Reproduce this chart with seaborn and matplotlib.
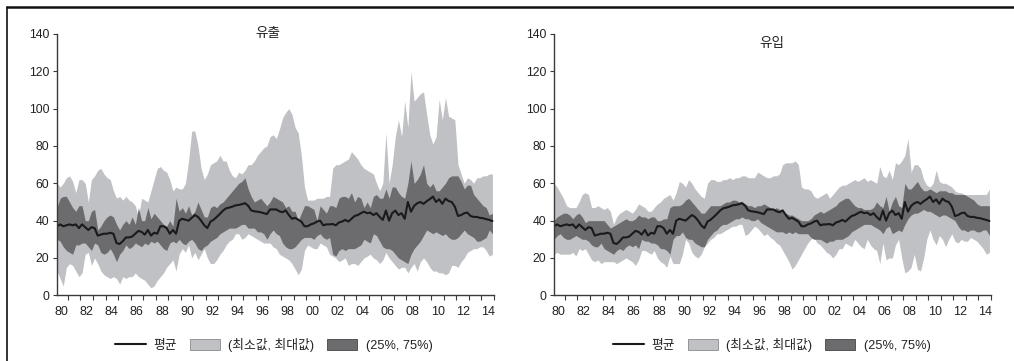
import numpy as np
import pandas as pd
import matplotlib
matplotlib.use("Agg")
import matplotlib.pyplot as plt
from matplotlib.lines import Line2D
from matplotlib.patches import Patch
import seaborn as sns

sns.set_theme(style="white")
plt.rcParams["font.family"] = ["Liberation Sans", "Noto Sans CJK KR"]

# Quarterly observations, 1980Q1 - 2014Q4
year_labels = ["80", "82", "84", "86", "88", "90", "92", "94", "96", "98",
               "00", "02", "04", "06", "08", "10", "12", "14"]
panel_titles = ["유출", "유입"]
legend_labels = ["평균", "(최소값, 최대값)", "(25%, 75%)"]

mean_q = [
    37, 38, 37, 37.5, 38, 37.5, 38, 36, 38, 36.5, 35, 36.5, 36, 32, 32.5, 33, 33, 33.5, 33, 28,
    27.5, 29, 31, 31, 31.5, 33, 34.5, 34, 32.5, 35, 32, 33.5, 33, 37, 37, 36, 33, 35, 33, 40,
    41, 40.5, 40, 41.5, 43, 42, 40, 37.5, 36, 39.5, 40.5, 42, 43.6, 45.4, 46.6, 47, 47.5, 48.2, 48.4, 48.8,
    49.4, 48, 45.5, 45, 44.8, 44.5, 44, 43.5, 46, 46, 46, 45, 44.5, 45.5, 43, 41, 41.5, 40.5, 39.5, 37,
    37, 38, 38.5, 39.5, 40, 37.5, 38, 38, 38.2, 37.5, 39, 39.5, 40.4, 39.5, 41, 42.5, 43, 44, 44.8, 44,
    44.3, 43, 44, 42, 40.4, 45.4, 40, 44, 45.4, 43, 44, 41, 50, 44.8, 47.9, 49.3, 50, 49, 50.4, 51.5,
    52.9, 50, 51.4, 49, 51.8, 50.5, 50, 47.5, 42.5, 43, 44, 44.3, 42.5, 42, 42, 41.5, 41.3, 40.8, 40.4, 39.8,
]

# Outflows
out_max = [
    60, 58, 60, 63, 64, 61, 55, 62, 62, 60, 50, 62, 64, 67, 68, 65, 63, 62, 56, 52,
    53, 51, 53, 51, 50, 48, 42, 52, 51, 50, 56, 62, 68, 69, 67, 66, 62, 56, 58, 57,
    57, 60, 72, 88, 88, 80, 68, 62, 65, 70, 71, 72, 75, 72, 72, 67, 64, 63, 66, 65,
    67, 70, 70, 72, 75, 77, 79, 80, 85, 86, 84, 89, 95, 98, 100, 97, 90, 87, 75, 58,
    51, 51, 51, 52, 52, 52, 53, 53, 68, 70, 70, 71, 72, 73, 77, 75, 73, 70, 68, 67,
    66, 65, 60, 56, 60, 87, 60, 70, 85, 94, 85, 104, 90, 120, 104, 106, 108, 109, 97, 86,
    81, 85, 105, 94, 106, 96, 95, 94, 70, 65, 60, 63, 62, 60, 63, 63, 64, 64, 65, 65,
]
out_min = [
    13, 9, 5, 15, 17, 16, 13, 10, 12, 22, 23, 16, 20, 17, 13, 11, 10, 9, 10, 9,
    6, 10, 9, 10, 10, 12, 10, 9, 8, 6, 4, 5, 8, 10, 12, 15, 17, 19, 13, 22,
    25, 23, 27, 20, 23, 19, 22, 25, 20, 17, 17, 19, 22, 24, 27, 29, 30, 33, 33, 30,
    31, 33, 32, 31, 30, 29, 28, 28, 28, 26, 25, 22, 21, 20, 19, 17, 14, 11, 14, 24,
    27, 26, 25, 25, 28, 27, 26, 22, 21, 20, 18, 19, 20, 16, 17, 17, 16, 18, 20, 21,
    22, 20, 19, 17, 19, 23, 20, 18, 16, 14, 15, 15, 12, 15, 17, 13, 18, 20, 18, 15,
    13, 13, 12, 12, 11, 12, 16, 16, 15, 18, 20, 23, 24, 25, 25, 26, 26, 24, 21, 22,
]
out_p75 = [
    47, 52, 53, 53, 50, 47, 45, 48, 48, 40, 40, 45, 46, 35, 37, 40, 42, 43, 42, 38,
    35, 38, 40, 38, 42, 38, 47, 40, 40, 47, 41, 44, 42, 40, 38, 37, 40, 37, 52, 45,
    47, 44, 48, 43, 45, 50, 46, 42, 42, 47, 48, 47, 49, 50, 52, 54, 56, 58, 60, 61,
    63, 57, 53, 50, 51, 52, 50, 48, 50, 53, 52, 51, 50, 47, 48, 45, 45, 40, 44, 48,
    48, 47, 46, 40, 48, 46, 44, 48, 48, 47, 52, 53, 53, 52, 55, 50, 53, 52, 47, 50,
    47, 53, 54, 52, 52, 57, 52, 58, 58, 55, 53, 52, 60, 72, 60, 62, 65, 70, 60, 58,
    60, 56, 56, 58, 60, 63, 64, 64, 64, 61, 57, 59, 59, 54, 52, 50, 48, 47, 43, 44,
]
out_p25 = [
    30, 29, 26, 24, 23, 22, 27, 27, 28, 28, 26, 24, 28, 27, 23, 22, 23, 25, 22, 18,
    22, 24, 27, 25, 26, 28, 27, 26, 28, 27, 29, 28, 29, 27, 25, 24, 28, 29, 28, 30,
    28, 27, 29, 30, 28, 25, 24, 26, 27, 29, 30, 31, 33, 34, 35, 36, 36, 36, 37, 38,
    38, 36, 36, 36, 34, 34, 33, 30, 33, 35, 33, 32, 28, 26, 25, 25, 26, 28, 30, 31,
    31, 31, 30, 32, 33, 31, 30, 31, 22, 21, 24, 25, 24, 25, 25, 25, 26, 27, 30, 29,
    28, 33, 32, 29, 26, 25, 25, 24, 22, 20, 19, 18, 17, 22, 25, 27, 29, 32, 35, 34,
    33, 34, 33, 32, 33, 31, 30, 30, 31, 33, 35, 33, 32, 31, 29, 29, 30, 31, 35, 33,
]

# Inflows
in_max = [
    60, 58, 55, 52, 48, 47, 47, 47, 50, 54, 55, 54, 47, 47, 48, 47, 46, 47, 45, 38,
    42, 44, 45, 46, 45, 44, 46, 49, 48, 47, 45, 45, 47, 49, 50, 52, 53, 54, 51, 55,
    61, 60, 58, 62, 60, 57, 55, 53, 52, 60, 62, 62, 61, 61, 62, 62, 63, 62, 63, 63,
    64, 64, 63, 63, 63, 66, 65, 64, 63, 63, 64, 64, 65, 70, 71, 71, 71, 72, 70, 58,
    57, 57, 56, 53, 52, 53, 54, 55, 52, 54, 56, 58, 59, 59, 60, 61, 62, 61, 62, 63,
    61, 62, 61, 60, 69, 64, 63, 67, 62, 71, 70, 72, 75, 84, 66, 70, 70, 68, 62, 59,
    58, 60, 67, 61, 60, 60, 59, 58, 56, 55, 55, 54, 54, 54, 54, 54, 54, 54, 54, 57,
]
in_min = [
    22, 23, 22, 22, 22, 22, 23, 21, 25, 24, 25, 22, 19, 18, 19, 17, 18, 18, 18, 18,
    17, 18, 19, 20, 19, 18, 16, 19, 24, 24, 23, 22, 24, 20, 18, 17, 15, 21, 17, 17,
    17, 22, 30, 28, 23, 21, 20, 22, 26, 28, 30, 31, 33, 33, 34, 35, 36, 37, 37, 38,
    38, 32, 33, 35, 37, 36, 34, 32, 33, 31, 30, 28, 27, 24, 21, 18, 14, 16, 19, 22,
    25, 28, 30, 31, 28, 27, 25, 23, 22, 20, 22, 25, 25, 28, 27, 26, 30, 28, 26, 25,
    30, 27, 25, 24, 17, 28, 19, 20, 20, 27, 30, 20, 12, 13, 15, 22, 14, 13, 20, 30,
    35, 30, 27, 32, 30, 26, 30, 33, 29, 28, 30, 29, 29, 31, 30, 29, 27, 25, 22, 23,
]
in_p75 = [
    40, 42, 43, 44, 44, 43, 41, 43, 44, 42, 39, 40, 40, 40, 40, 40, 40, 38, 36, 37,
    38, 39, 40, 41, 40, 40, 41, 43, 42, 42, 41, 42, 42, 40, 40, 41, 41, 47, 48, 48,
    48, 49, 51, 52, 50, 48, 46, 44, 44, 46, 48, 48, 48, 48, 49, 50, 50, 51, 51, 50,
    50, 49, 48, 48, 47, 48, 48, 49, 48, 47, 46, 47, 46, 45, 44, 43, 43, 42, 41, 40,
    40, 40, 41, 43, 44, 45, 44, 45, 46, 47, 48, 50, 51, 52, 52, 50, 48, 47, 47, 46,
    46, 46, 47, 50, 48, 47, 53, 45, 50, 53, 48, 47, 60, 57, 57, 59, 61, 58, 56, 56,
    57, 56, 55, 56, 56, 56, 55, 55, 54, 54, 54, 54, 53, 52, 51, 49, 48, 48, 48, 48,
]
in_p25 = [
    30, 32, 33, 31, 30, 30, 31, 32, 31, 30, 30, 29, 27, 26, 26, 28, 25, 24, 23, 22,
    24, 25, 24, 26, 27, 26, 27, 25, 30, 29, 29, 28, 28, 27, 25, 25, 24, 22, 30, 32,
    32, 34, 31, 30, 30, 28, 27, 26, 26, 30, 32, 34, 35, 37, 38, 38, 39, 40, 41, 41,
    42, 41, 41, 40, 40, 41, 39, 38, 37, 36, 35, 34, 34, 34, 33, 34, 33, 34, 33, 33,
    33, 33, 31, 30, 30, 30, 29, 28, 29, 29, 30, 30, 30, 31, 32, 34, 35, 36, 37, 38,
    38, 38, 37, 36, 35, 33, 36, 37, 33, 34, 35, 34, 38, 41, 43, 44, 44, 45, 46, 45,
    45, 44, 43, 42, 43, 43, 42, 41, 40, 37, 35, 35, 34, 35, 35, 34, 34, 35, 35, 32,
]

LIGHT = "#c0c1c4"
DARK = "#6c6c6f"
LINE = "#1a1a1a"
SPINE = "#3a3a3a"
TEXT = "#222222"

quarter = np.arange(len(mean_q))
panels = [
    (panel_titles[0], out_min, out_max, out_p25, out_p75),
    (panel_titles[1], in_min, in_max, in_p25, in_p75),
]

W, H = 1014, 361
fig = plt.figure(figsize=(W / 100, H / 100), dpi=100)

ax_left_px = [57, 554]
title_pos = [(268, 33), (772, 43)]
legend_cx = [274, 772]

for k, (title, lo, hi, q25, q75) in enumerate(panels):
    ax = fig.add_axes([ax_left_px[k] / W, 1 - 295.3 / H, 437 / W, 261.3 / H])
    df = pd.DataFrame({"quarter": quarter, "mean": mean_q, "lo": lo, "hi": hi,
                       "q25": q25, "q75": q75})
    ax.fill_between(df["quarter"], df["lo"], df["hi"], color=LIGHT, lw=0)
    ax.fill_between(df["quarter"], df["q25"], df["q75"], color=DARK, lw=0)
    sns.lineplot(data=df, x="quarter", y="mean", ax=ax, color=LINE, lw=1.5)

    ax.set_xlim(0, 139.5)
    ax.set_ylim(0, 140)
    ax.set_yticks(range(0, 141, 20))
    ax.set_xticks(1.5 + 8 * np.arange(len(year_labels)))
    ax.set_xticklabels(year_labels)
    ax.set_xticks(3.5 + 4 * np.arange(35), minor=True)
    ax.tick_params(axis="x", which="major", length=0, pad=7.5, labelsize=9,
                   labelcolor=TEXT)
    ax.tick_params(axis="x", which="minor", bottom=True, length=3.6, width=0.8,
                   direction="out", color=SPINE)
    ax.tick_params(axis="y", left=True, length=3, width=0.8, direction="out",
                   color=SPINE, pad=2.5, labelsize=8.8, labelcolor=TEXT)
    ax.set_xlabel("")
    ax.set_ylabel("")
    for side in ("top", "right"):
        ax.spines[side].set_visible(False)
    for side in ("left", "bottom"):
        ax.spines[side].set_color(SPINE)
        ax.spines[side].set_linewidth(1.0)
    ax.set_facecolor("none")

    fig.text(title_pos[k][0] / W, 1 - title_pos[k][1] / H, title, ha="center",
             va="center", fontsize=9.8, color=TEXT)

    handles = [
        Line2D([0], [0], color=LINE, lw=1.5),
        Patch(facecolor=LIGHT, edgecolor="#8a8a8c", lw=0.6),
        Patch(facecolor=DARK, edgecolor="#444446", lw=0.6),
    ]
    fig.legend(handles, legend_labels, loc="center",
               bbox_to_anchor=(legend_cx[k] / W, 1 - 345 / H), ncol=3,
               frameon=False, fontsize=9.2, handlelength=2.35, handleheight=0.85,
               handletextpad=0.65, columnspacing=1.0, labelcolor=TEXT)

# Frame around the figure
fig.add_artist(Line2D([7 / W, 7 / W], [0, 1 - 7 / H], transform=fig.transFigure,
                      color="#111111", lw=1.2))
fig.add_artist(Line2D([7 / W, 1], [1 - 7 / H, 1 - 7 / H], transform=fig.transFigure,
                      color="#111111", lw=1.8))

fig.savefig("out.png", dpi=100, facecolor="white")
